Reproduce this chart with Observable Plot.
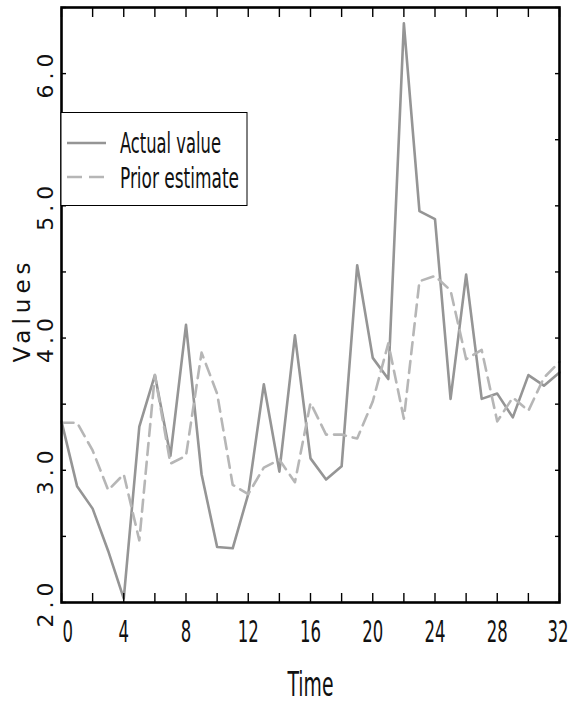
<!DOCTYPE html>
<html>
<head>
<meta charset="utf-8">
<script src="https://cdn.jsdelivr.net/npm/d3@7"></script>
<script src="https://cdn.jsdelivr.net/npm/@observablehq/plot@0.6"></script>
<style>
  body { margin: 0; background: #fff; }
</style>
</head>
<body>
<div id="grafico"></div>
<script>
// valores
const tiempo = [0,1,2,3,4,5,6,7,8,9,10,11,12,13,14,15,16,17,18,19,20,21,22,23,24,25,26,27,28,29,30,31,32];
const valorReal = [3.37,2.88,2.71,2.39,2.03,3.33,3.72,3.11,4.10,2.97,2.42,2.41,2.82,3.65,2.99,4.02,3.09,2.93,3.03,4.55,3.85,3.69,6.38,4.96,4.90,3.54,4.48,3.54,3.58,3.40,3.72,3.64,3.74];
const estimacionPrevia = [3.36,3.36,3.15,2.85,2.97,2.47,3.72,3.05,3.11,3.89,3.58,2.89,2.82,3.02,3.08,2.91,3.51,3.27,3.27,3.24,3.52,3.96,3.39,4.43,4.47,4.36,3.84,3.91,3.37,3.55,3.45,3.70,3.82];

const xEtiquetas = [0,4,8,12,16,20,24,28,32];
const xMarcas = [0,2,4,6,8,10,12,14,16,18,20,22,24,26,28,30,32];
const yEtiquetas = [2.0,3.0,4.0,5.0,6.0];
const yMarcas = [2.0,2.5,3.0,3.5,4.0,4.5,5.0,5.5,6.0,6.5];

const serieReal = tiempo.map((t, i) => ({t, v: valorReal[i]}));
const seriePrevia = tiempo.map((t, i) => ({t, v: estimacionPrevia[i]}));

const grisReal = '#959595';
const grisPrevio = '#b6b6b6';
const fuenteFina = '"Liberation Sans Narrow", "DejaVu Sans Condensed", sans-serif';

let chart = Plot.plot({
    width: 570,
    height: 704,
    marginLeft: 61,
    marginRight: 11,
    marginTop: 7,
    marginBottom: 102,
    style: { background: 'white', fontFamily: fuenteFina },
    x: { domain: [0, 32] },
    y: { domain: [2, 6.5] },
    marks: [
        Plot.line(serieReal, { x: 't', y: 'v', stroke: grisReal, strokeWidth: 2.6 }),
        Plot.line(seriePrevia, { x: 't', y: 'v', stroke: grisPrevio, strokeWidth: 2.6, strokeDasharray: '12,7' }),

        // marcas hacia adentro en los cuatro lados
        Plot.axisX({ anchor: 'bottom', ticks: xMarcas, tickSize: -9, tickFormat: () => '', label: null, strokeWidth: 1.4 }),
        Plot.axisX({ anchor: 'top', ticks: xMarcas, tickSize: -9, tickFormat: () => '', label: null, strokeWidth: 1.4 }),
        Plot.axisY({ anchor: 'left', ticks: yMarcas, tickSize: -5, tickFormat: () => '', label: null, strokeWidth: 1.4 }),
        Plot.axisY({ anchor: 'right', ticks: yMarcas, tickSize: -5, tickFormat: () => '', label: null, strokeWidth: 1.4 }),

        // etiquetas del eje x
        Plot.text(xEtiquetas.filter(d => d > 0 && d < 32), {
            x: d => d, text: d => String(d), frameAnchor: 'bottom', lineAnchor: 'top',
            dy: 18, fontSize: 30, fill: '#111', ariaDescription: 'xlab'
        }),
        Plot.text(xEtiquetas.filter(d => d == 32), {
            x: d => d, text: d => String(d), frameAnchor: 'bottom', lineAnchor: 'top',
            dy: 18, dx: 9, textAnchor: 'end', fontSize: 30, fill: '#111', ariaDescription: 'xlab'
        }),
        Plot.text(xEtiquetas.filter(d => d == 0), {
            x: d => d, text: d => String(d), frameAnchor: 'bottom', lineAnchor: 'top',
            dy: 18, dx: 1, textAnchor: 'start', fontSize: 30, fill: '#111', ariaDescription: 'xlab'
        }),
        Plot.text(['Time'], {
            text: d => d, frameAnchor: 'bottom', lineAnchor: 'top', dy: 69,
            fontSize: 34, fill: '#111', ariaDescription: 'xtitle'
        }),

        // etiquetas del eje y, giradas
        Plot.text(yEtiquetas, {
            y: d => d, text: d => d.toFixed(1), frameAnchor: 'left', textAnchor: 'middle',
            dx: -16, rotate: -90,
            fontSize: 22, fontFamily: 'DejaVu Sans', fill: '#111', ariaDescription: 'ylab'
        }),
        Plot.text(['Values'], {
            text: d => d, frameAnchor: 'left', textAnchor: 'middle', dx: -39, dy: 5, rotate: -90,
            fontSize: 23, fontFamily: 'DejaVu Sans', fill: '#111', ariaDescription: 'ytitle'
        }),

        Plot.frame({ stroke: 'black', strokeWidth: 2.6 })
    ]
});

const svg = d3.select(chart);

// angostar las letras del eje x como en el original
svg.selectAll('g[aria-description=xlab] text').each(function () {
    const n = this.textContent.length;
    d3.select(this).attr('textLength', n * 10.5).attr('lengthAdjust', 'spacingAndGlyphs');
});
svg.selectAll('g[aria-description=xtitle] text').attr('textLength', 46).attr('lengthAdjust', 'spacingAndGlyphs');
// letras del eje y separadas
svg.selectAll('g[aria-description=ylab] text').style('letter-spacing', '5px');
svg.selectAll('g[aria-description=ytitle] text').style('letter-spacing', '5px');

// leyenda
const ley = svg.append('g');
ley.append('rect').attr('x', 61).attr('y', 112.5).attr('width', 186).attr('height', 93)
    .attr('fill', 'white').attr('stroke', 'black').attr('stroke-width', 1);
ley.append('line').attr('x1', 67).attr('x2', 106).attr('y1', 143).attr('y2', 143)
    .attr('stroke', grisReal).attr('stroke-width', 2.6);
ley.append('line').attr('x1', 67).attr('x2', 106).attr('y1', 177).attr('y2', 177)
    .attr('stroke', grisPrevio).attr('stroke-width', 2.6).attr('stroke-dasharray', '15,7');
ley.append('text').attr('x', 120).attr('y', 153).text('Actual value')
    .attr('text-anchor', 'start')
    .attr('font-family', fuenteFina).attr('font-size', 28).attr('fill', '#111')
    .attr('textLength', 101).attr('lengthAdjust', 'spacingAndGlyphs');
ley.append('text').attr('x', 120).attr('y', 188).text('Prior estimate')
    .attr('text-anchor', 'start')
    .attr('font-family', fuenteFina).attr('font-size', 28).attr('fill', '#111')
    .attr('textLength', 119).attr('lengthAdjust', 'spacingAndGlyphs');

d3.select('#grafico').append(() => chart);
</script>
</body>
</html>
